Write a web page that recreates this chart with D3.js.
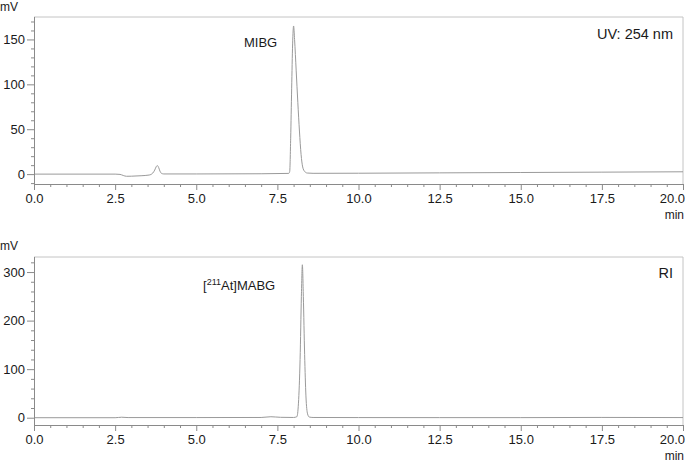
<!DOCTYPE html>
<html><head><meta charset="utf-8">
<script src="https://cdn.jsdelivr.net/npm/d3@7"></script>
<style>
html,body{margin:0;padding:0;background:#fff;}
svg{display:block;font-family:"Liberation Sans",Arial,sans-serif;}
</style></head>
<body><svg id="c" width="685" height="462"></svg>
<script>
// ---- data ----
const xTicks = [0, 2.5, 5, 7.5, 10, 12.5, 15, 17.5, 20];
const xTickLabels = ["0.0","2.5","5.0","7.5","10.0","12.5","15.0","17.5","20.0"];
const uvTicks = [0, 50, 100, 150];
const riTicks = [0, 100, 200, 300];

const uvTime = [0, 2.5, 2.65, 2.75, 2.85, 3.0, 3.3, 3.55, 3.66, 3.72, 3.77, 3.8, 3.84, 3.88, 3.93, 4.0, 5.0, 7.0, 7.85,
  7.88, 7.91, 7.94, 7.97, 8.0, 8.03, 8.08, 8.13, 8.18, 8.23, 8.28, 8.34, 8.42, 8.6, 10, 12.5, 15, 17.5, 20];
const uvMv   = [0, 0, -0.3, -1.5, -2.4, -2.3, -1.8, -1.0, 1.2, 4.5, 8.5, 9.5, 7.5, 3.5, 0.8, 0.2, 0.2, 0.4, 0.8,
  3, 40, 95, 145, 165, 150, 115, 80, 48, 22, 8, 3, 1.2, 0.9, 1.0, 1.4, 1.8, 2.2, 2.6];

const riTime = [0, 2.5, 2.7, 2.9, 5.0, 7.0, 7.3, 7.6, 8.0, 8.1, 8.15, 8.2, 8.24, 8.27, 8.3, 8.34, 8.38, 8.43, 8.48, 8.6, 10, 12.5, 15, 17.5, 20];
const riMv   = [0, 0, 1, 0.3, 0.3, 0.5, 2, 0.8, 0.5, 2, 30, 120, 250, 315, 250, 130, 45, 8, 1.5, 0.5, 0.3, 0.2, 0.2, 0.6, 0.3];

const panels = [
  {time: uvTime, mv: uvMv, yDomain: [-11, 175], top: 17, bottom: 184, majors: uvTicks, minorStep: 10,
   label: "MIBG", labelX: 244, labelY: 47, tag: "UV: 254 nm", tagY: 39, unitY: 11},
  {time: riTime, mv: riMv, yDomain: [-15, 331], top: 257, bottom: 425, majors: riTicks, minorStep: 20,
   label: "[211At]MABG", labelX: 203, labelY: 290, tag: "RI", tagY: 278, unitY: 250}
];

const svg = d3.select("#c");
const left = 34, right = 683;
const x = d3.scaleLinear().domain([0, 20]).range([left, right]);
const xMinor = d3.range(0, 20.001, 0.5).filter(v => Math.abs(v/2.5 - Math.round(v/2.5)) > 1e-6);
const axisColor = "#8a8a8a", textColor = "#1a1a1a";

panels.forEach((p, i) => {
  const y = d3.scaleLinear().domain(p.yDomain).range([p.bottom, p.top]);
  const g = svg.append("g");
  // frame top/right
  g.append("path").attr("d", `M${left},${p.top}H${right}V${p.bottom}`)
    .attr("fill", "none").attr("stroke", "#c4c4c4").attr("stroke-width", 1);

  // clip
  const cid = "clip" + i;
  svg.append("clipPath").attr("id", cid).append("rect")
    .attr("x", left).attr("y", p.top).attr("width", right - left).attr("height", p.bottom - p.top);

  // trace
  const pts = p.time.map((t, k) => [t, p.mv[k]]);
  g.append("path").datum(pts)
    .attr("clip-path", `url(#${cid})`)
    .attr("d", d3.line().x(d => x(d[0])).y(d => y(d[1])).curve(d3.curveMonotoneX))
    .attr("fill", "none").attr("stroke", "#9a9a9a").attr("stroke-width", 1);

  // y axis
  const yMinor = d3.range(Math.ceil(p.yDomain[0]/p.minorStep)*p.minorStep, p.yDomain[1], p.minorStep)
    .filter(v => !p.majors.includes(v));
  const ya = g.append("g").attr("transform", `translate(${left},0)`);
  ya.call(d3.axisLeft(y).tickValues(yMinor).tickSize(3).tickFormat(""));
  ya.call(g2 => g2.select(".domain").remove());
  const yb = g.append("g").attr("transform", `translate(${left},0)`);
  yb.call(d3.axisLeft(y).tickValues(p.majors).tickSize(7).tickPadding(2).tickFormat(d3.format("d")));
  yb.select(".domain").attr("d", `M0.5,${p.top}V${p.bottom}`);
  [ya, yb].forEach(a => {
    a.selectAll("line").attr("stroke", axisColor);
    a.selectAll(".domain").attr("stroke", axisColor);
    a.selectAll("text").attr("fill", textColor).attr("font-size", 13)
      .attr("font-family", "Liberation Sans, Arial, sans-serif");
  });

  // x axis
  const xa = g.append("g").attr("transform", `translate(0,${p.bottom})`);
  xa.call(d3.axisBottom(x).tickValues(xMinor).tickSize(3).tickFormat(""));
  xa.select(".domain").remove();
  const xb = g.append("g").attr("transform", `translate(0,${p.bottom})`);
  xb.call(d3.axisBottom(x).tickValues(xTicks).tickSize(6).tickPadding(4)
    .tickFormat((d, k) => xTickLabels[k]));
  xb.select(".domain").attr("d", `M${left},0.5H${right}`);
  [xa, xb].forEach(a => {
    a.selectAll("line").attr("stroke", axisColor);
    a.selectAll(".domain").attr("stroke", axisColor);
    a.selectAll("text").attr("fill", textColor).attr("font-size", 13)
      .attr("font-family", "Liberation Sans, Arial, sans-serif");
  });
  // keep the last label inside the window (right-aligned to its tick)
  xb.selectAll(".tick").filter(d => d === 20).select("text")
    .attr("text-anchor", "end").attr("x", 1.5);

  // unit labels
  g.append("text").attr("x", right + 1).attr("y", p.bottom + 35).attr("text-anchor", "end")
    .attr("font-size", 12).attr("fill", textColor).text("min");
  g.append("text").attr("x", 0).attr("y", p.unitY).attr("font-size", 12).attr("fill", textColor).text("mV");

  // annotation
  const lt = g.append("text").attr("x", p.labelX).attr("y", p.labelY).attr("font-size", 13).attr("fill", textColor);
  if (p.label.startsWith("[211")) {
    lt.append("tspan").text("[");
    lt.append("tspan").attr("font-size", 9).attr("dy", -5).text("211");
    lt.append("tspan").attr("dy", 5).text("At]MABG");
  } else lt.text(p.label);

  g.append("text").attr("x", 673).attr("y", p.tagY).attr("text-anchor", "end")
    .attr("font-size", 14.5).attr("fill", textColor).text(p.tag);
});
</script></body></html>
